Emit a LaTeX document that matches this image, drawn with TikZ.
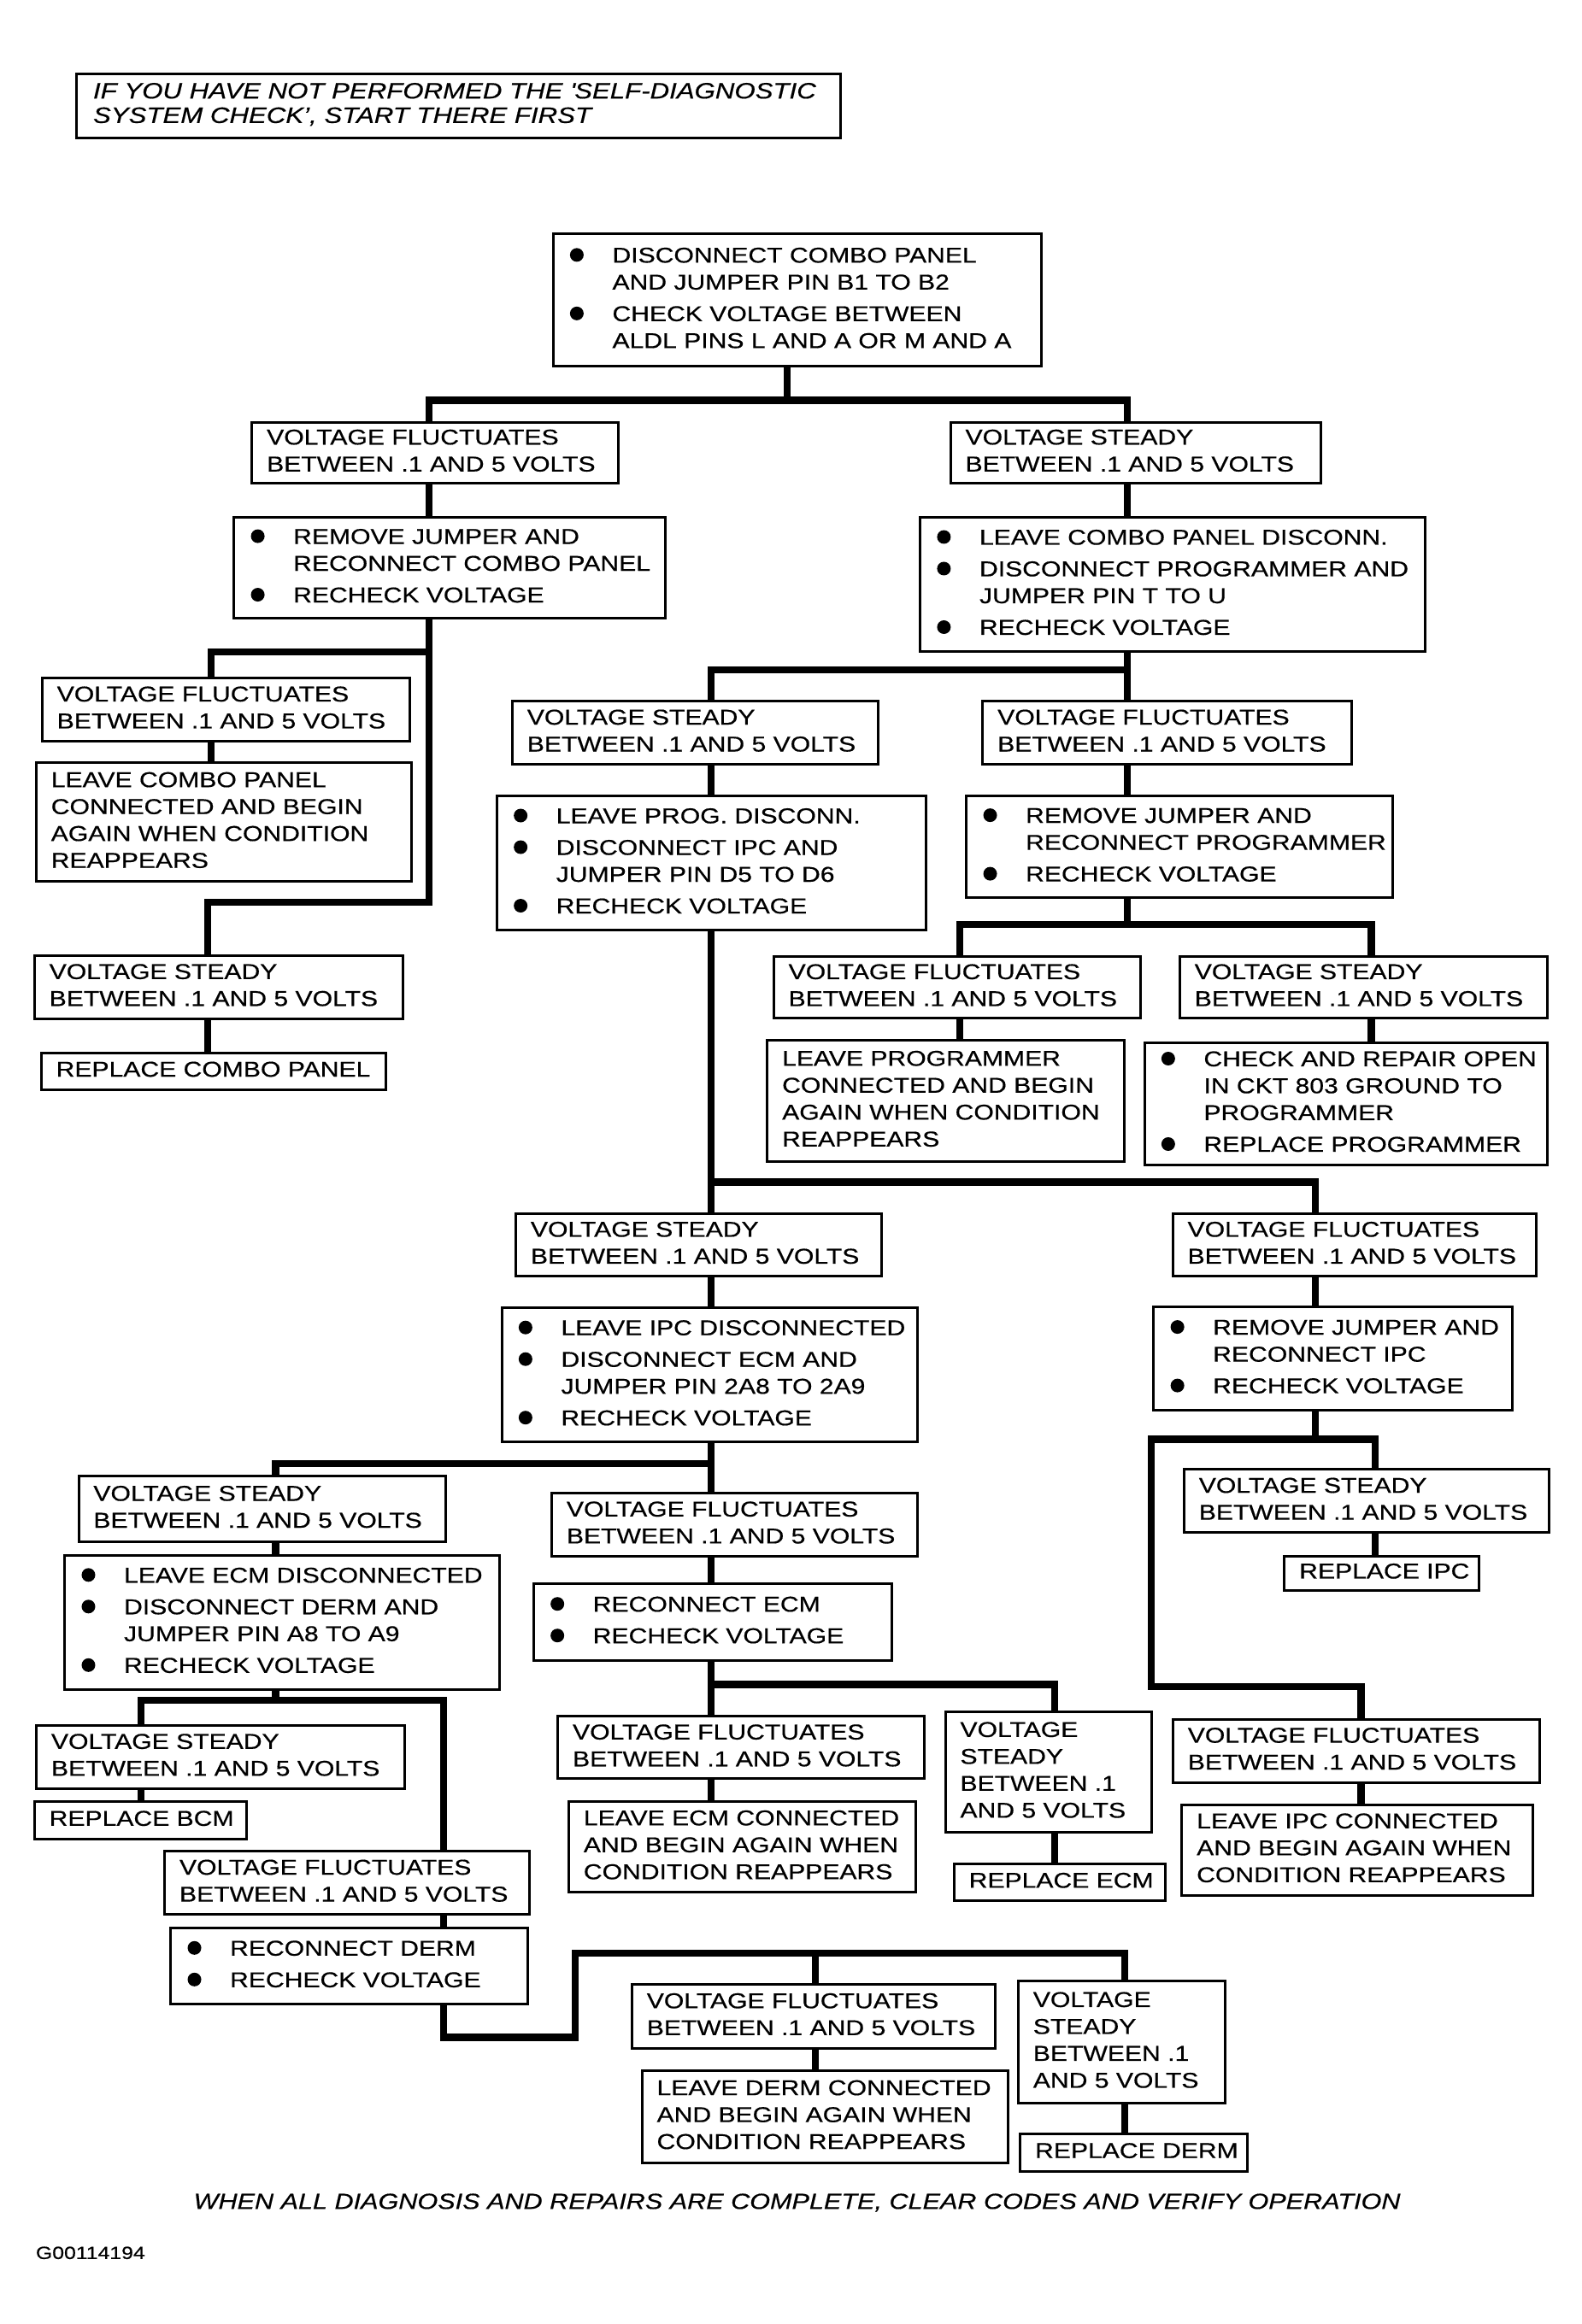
\documentclass[tikz,border=0pt]{standalone}
\usepackage{fontspec}
\setmainfont{Liberation Sans}[FakeStretch=1.2,FakeBold=0.5]
\newcommand\fsz{\fontsize{7.53pt}{9.45pt}\selectfont}
\newcommand\fnote{\fontsize{7.8pt}{8.6pt}\selectfont\itshape}
\newcommand\blt{\makebox[15.6pt][l]{\hspace{0.72pt}\tikz[baseline=-2.7pt]\fill (0,0) circle[radius=2.4pt];}}
\newcommand\gap{\\[1.65pt]}
\newcommand\vf{VOLTAGE FLUCTUATES\\BETWEEN .1 AND 5 VOLTS}
\newcommand\vs{VOLTAGE STEADY\\BETWEEN .1 AND 5 VOLTS}
\def\U{0.5204pt}
\newcommand\bx[7][]{%
  \pgfmathsetlengthmacro\bxw{(#5-#3)*\U}%
  \pgfmathsetlengthmacro\bxh{(#6-#4)*\U}%
  \pgfmathsetlengthmacro\bxt{(#5-#3-20)*\U}%
  \node[box,#1,minimum width=\bxw,minimum height=\bxh,text width=\bxt] (#2) at (#3,#4) {\begin{tabular}{@{}l@{}l@{}}#7\end{tabular}};}
\tikzset{
  box/.style={draw, line width=0.9pt, inner xsep=5.204pt, inner ysep=0pt, anchor=north west, align=left, font=\fsz},
  note/.style={inner xsep=5.98pt, font=\fnote},
  conn/.style={line width=2.5pt, line join=miter},
}
\begin{document}
\begin{tikzpicture}[x=0.5204pt, y=-0.5204pt]
\fill[white] (0,0) rectangle (1067,1568);
\useasboundingbox (0,0) rectangle (1067,1568);

\bx[note]{note}{50.5}{49}{563}{92}{IF YOU HAVE NOT PERFORMED THE \textquotesingle SELF-DIAGNOSTIC\\SYSTEM CHECK', START THERE FIRST}

\bx{A}{372.2}{157}{701.7}{246}{\blt & DISCONNECT COMBO PANEL\\ & AND JUMPER PIN B1 TO B2\gap \blt & CHECK VOLTAGE BETWEEN\\ & ALDL PINS L AND A OR M AND A}
\bx{B}{169.1}{284}{416.4}{325}{\vf}
\bx{C}{640.3}{284}{890}{325}{\vs}
\bx{D}{157}{348}{448}{416.4}{\blt & REMOVE JUMPER AND\\ & RECONNECT COMBO PANEL\gap \blt & RECHECK VOLTAGE}
\bx{E}{27.6}{456.7}{275.7}{499}{\vf}
\bx{F}{23.6}{513.6}{276.6}{594}{LEAVE COMBO PANEL\\CONNECTED AND BEGIN\\AGAIN WHEN CONDITION\\REAPPEARS}
\bx{G}{22.4}{643.7}{271}{686.5}{\vs}
\bx{H}{27}{709.4}{259.4}{734.4}{REPLACE COMBO PANEL}
\bx{I}{619.8}{348.2}{960.2}{438.6}{\blt & LEAVE COMBO PANEL DISCONN.\gap \blt & DISCONNECT PROGRAMMER AND\\ & JUMPER PIN T TO U\gap \blt & RECHECK VOLTAGE}
\bx{J}{344.7}{472}{591.4}{514.9}{\vs}
\bx{K}{662}{472}{910.7}{514.9}{\vf}
\bx{L}{334.3}{536.3}{624}{626.4}{\blt & LEAVE PROG. DISCONN.\gap \blt & DISCONNECT IPC AND\\ & JUMPER PIN D5 TO D6\gap \blt & RECHECK VOLTAGE}
\bx{M}{651}{536.3}{938.3}{604.6}{\blt & REMOVE JUMPER AND\\ & RECONNECT PROGRAMMER\gap \blt & RECHECK VOLTAGE}
\bx{N}{521}{644.3}{768.7}{686.1}{\vf}
\bx{O}{794.9}{644.3}{1042.7}{686.1}{\vs}
\bx{P}{516.7}{701}{757.3}{782.6}{LEAVE PROGRAMMER\\CONNECTED AND BEGIN\\AGAIN WHEN CONDITION\\REAPPEARS}
\bx{Q}{771.1}{702.5}{1042.7}{785}{\blt & CHECK AND REPAIR OPEN\\ & IN CKT 803 GROUND TO\\ & PROGRAMMER\gap \blt & REPLACE PROGRAMMER}
\bx{R}{347.1}{818}{593.9}{860}{\vs}
\bx{S}{790.2}{818}{1035.5}{860}{\vf}
\bx{T}{337.6}{881.5}{617.7}{972}{\blt & LEAVE IPC DISCONNECTED\gap \blt & DISCONNECT ECM AND\\ & JUMPER PIN 2A8 TO 2A9\gap \blt & RECHECK VOLTAGE}
\bx{U}{777.3}{881}{1019.3}{950.5}{\blt & REMOVE JUMPER AND\\ & RECONNECT IPC\gap \blt & RECHECK VOLTAGE}
\bx{V}{797.8}{990.5}{1044.1}{1033}{\vs}
\bx{X}{865.5}{1049}{996.5}{1072}{REPLACE IPC}
\bx{W}{790.3}{1159}{1037.9}{1201.7}{\vf}
\bx{Y}{796.3}{1216.7}{1032.8}{1277.8}{LEAVE IPC CONNECTED\\AND BEGIN AGAIN WHEN\\CONDITION REAPPEARS}
\bx{Z1}{52.2}{995.2}{299.9}{1039.1}{\vs}
\bx{Z2}{371.3}{1006.5}{618.2}{1049}{\vf}
\bx{AA}{42.8}{1048.3}{335.8}{1139.1}{\blt & LEAVE ECM DISCONNECTED\gap \blt & DISCONNECT DERM AND\\ & JUMPER PIN A8 TO A9\gap \blt & RECHECK VOLTAGE}
\bx{AB}{359.1}{1067.7}{600.7}{1119.3}{\blt & RECONNECT ECM\gap \blt & RECHECK VOLTAGE}
\bx{AC}{375.4}{1157}{622.3}{1199.3}{\vf}
\bx{AD}{636.8}{1153.8}{776}{1235.5}{VOLTAGE\\STEADY\\BETWEEN .1\\AND 5 VOLTS}
\bx{AE}{382.8}{1214.6}{617}{1275.8}{LEAVE ECM CONNECTED\\AND BEGIN AGAIN WHEN\\CONDITION REAPPEARS}
\bx{AF}{642.7}{1256.7}{785}{1281.6}{REPLACE ECM}
\bx{AG}{23.7}{1163.2}{272.2}{1205.8}{\vs}
\bx{AI}{22.4}{1214.6}{165.3}{1240.1}{REPLACE BCM}
\bx{AH}{110.2}{1248.3}{356.3}{1290.5}{\vf}
\bx{AJ}{114.3}{1300}{355.3}{1351.2}{\blt & RECONNECT DERM\gap \blt & RECHECK VOLTAGE}
\bx{AK}{425.4}{1337.7}{670.3}{1381.3}{\vf}
\bx{AL}{686}{1335.8}{825.5}{1417.9}{VOLTAGE\\STEADY\\BETWEEN .1\\AND 5 VOLTS}
\bx{AM}{432.2}{1396.3}{679.2}{1458.2}{LEAVE DERM CONNECTED\\AND BEGIN AGAIN WHEN\\CONDITION REAPPEARS}
\bx{AN}{687.3}{1439}{840.5}{1464}{REPLACE DERM}

\node[font=\fontsize{7.65pt}{9pt}\selectfont\itshape, anchor=base, inner sep=0pt] (foot) at (537.6,1490.3) {WHEN ALL DIAGNOSIS AND REPAIRS ARE COMPLETE, CLEAR CODES AND VERIFY OPERATION};
\node[font=\fontsize{6.2pt}{7pt}\selectfont, anchor=base west, inner sep=0pt] (code) at (23.8,1524.1) {G00114194};

% connectors
\draw[conn] (A.south -| 530.8,0) -- (530.8,270);
\draw[conn] (B.north -| 289.4,0) |- (760.5,270) -- (C.north -| 760.5,0);
\draw[conn] (B.south -| 289.4,0) -- (D.north -| 289.4,0);
\draw[conn] (D.south -| 289.4,0) |- (140,608.8) -- (G.north -| 140,0);
\draw[conn] (289.4,439.8) -| (E.north -| 142.4,0);
\draw[conn] (E.south -| 142.4,0) -- (F.north -| 142.4,0);
\draw[conn] (G.south -| 140,0) -- (H.north -| 140,0);
\draw[conn] (C.south -| 760.5,0) -- (I.north -| 760.5,0);
\draw[conn] (I.south -| 760.5,0) -- (K.north -| 760.5,0);
\draw[conn] (760.5,452) -| (J.north -| 479.5,0);
\draw[conn] (J.south -| 479.5,0) -- (L.north -| 479.5,0);
\draw[conn] (K.south -| 760.5,0) -- (M.north -| 760.5,0);
\draw[conn] (M.south -| 760.5,0) -- (760.5,623.6);
\draw[conn] (N.north -| 647.2,0) |- (925,623.6) -- (O.north -| 925,0);
\draw[conn] (N.south -| 647.2,0) -- (P.north -| 647.2,0);
\draw[conn] (O.south -| 925,0) -- (Q.north -| 925,0);
\draw[conn] (L.south -| 479.5,0) -- (R.north -| 479.5,0);
\draw[conn] (479.5,797.5) -| (S.north -| 887,0);
\draw[conn] (R.south -| 479.5,0) -- (T.north -| 479.5,0);
\draw[conn] (S.south -| 887,0) -- (U.north -| 887,0);
\draw[conn] (T.south -| 479.5,0) -- (Z2.north -| 479.5,0);
\draw[conn] (479.5,987.5) -| (Z1.north -| 186,0);
\draw[conn] (Z1.south -| 186,0) -- (AA.north -| 186,0);
\draw[conn] (Z2.south -| 479.5,0) -- (AB.north -| 479.5,0);
\draw[conn] (AB.south -| 479.5,0) -- (AC.north -| 479.5,0);
\draw[conn] (479.5,1136.5) -| (AD.north -| 711.3,0);
\draw[conn] (AC.south -| 479.5,0) -- (AE.north -| 479.5,0);
\draw[conn] (AD.south -| 711.3,0) -- (AF.north -| 711.3,0);
\draw[conn] (U.south -| 887,0) -- (887,971);
\draw[conn] (V.north -| 927.4,0) |- (776.6,971) |- (918,1138) -- (W.north -| 918,0);
\draw[conn] (V.south -| 927.4,0) -- (X.north -| 927.4,0);
\draw[conn] (W.south -| 918,0) -- (Y.north -| 918,0);
\draw[conn] (AA.south -| 186,0) -- (186,1147.2);
\draw[conn] (AG.north -| 95,0) |- (299,1147.2) -- (AH.north -| 299,0);
\draw[conn] (AG.south -| 95,0) -- (AI.north -| 95,0);
\draw[conn] (AH.south -| 299,0) -- (AJ.north -| 299,0);
\draw[conn] (AJ.south -| 299,0) |- (387.9,1374.6) |- (758.8,1317.9) -- (AL.north -| 758.8,0);
\draw[conn] (550,1317.9) -- (AK.north -| 550,0);
\draw[conn] (AK.south -| 550,0) -- (AM.north -| 550,0);
\draw[conn] (AL.south -| 758.8,0) -- (AN.north -| 758.8,0);
\end{tikzpicture}
\end{document}
